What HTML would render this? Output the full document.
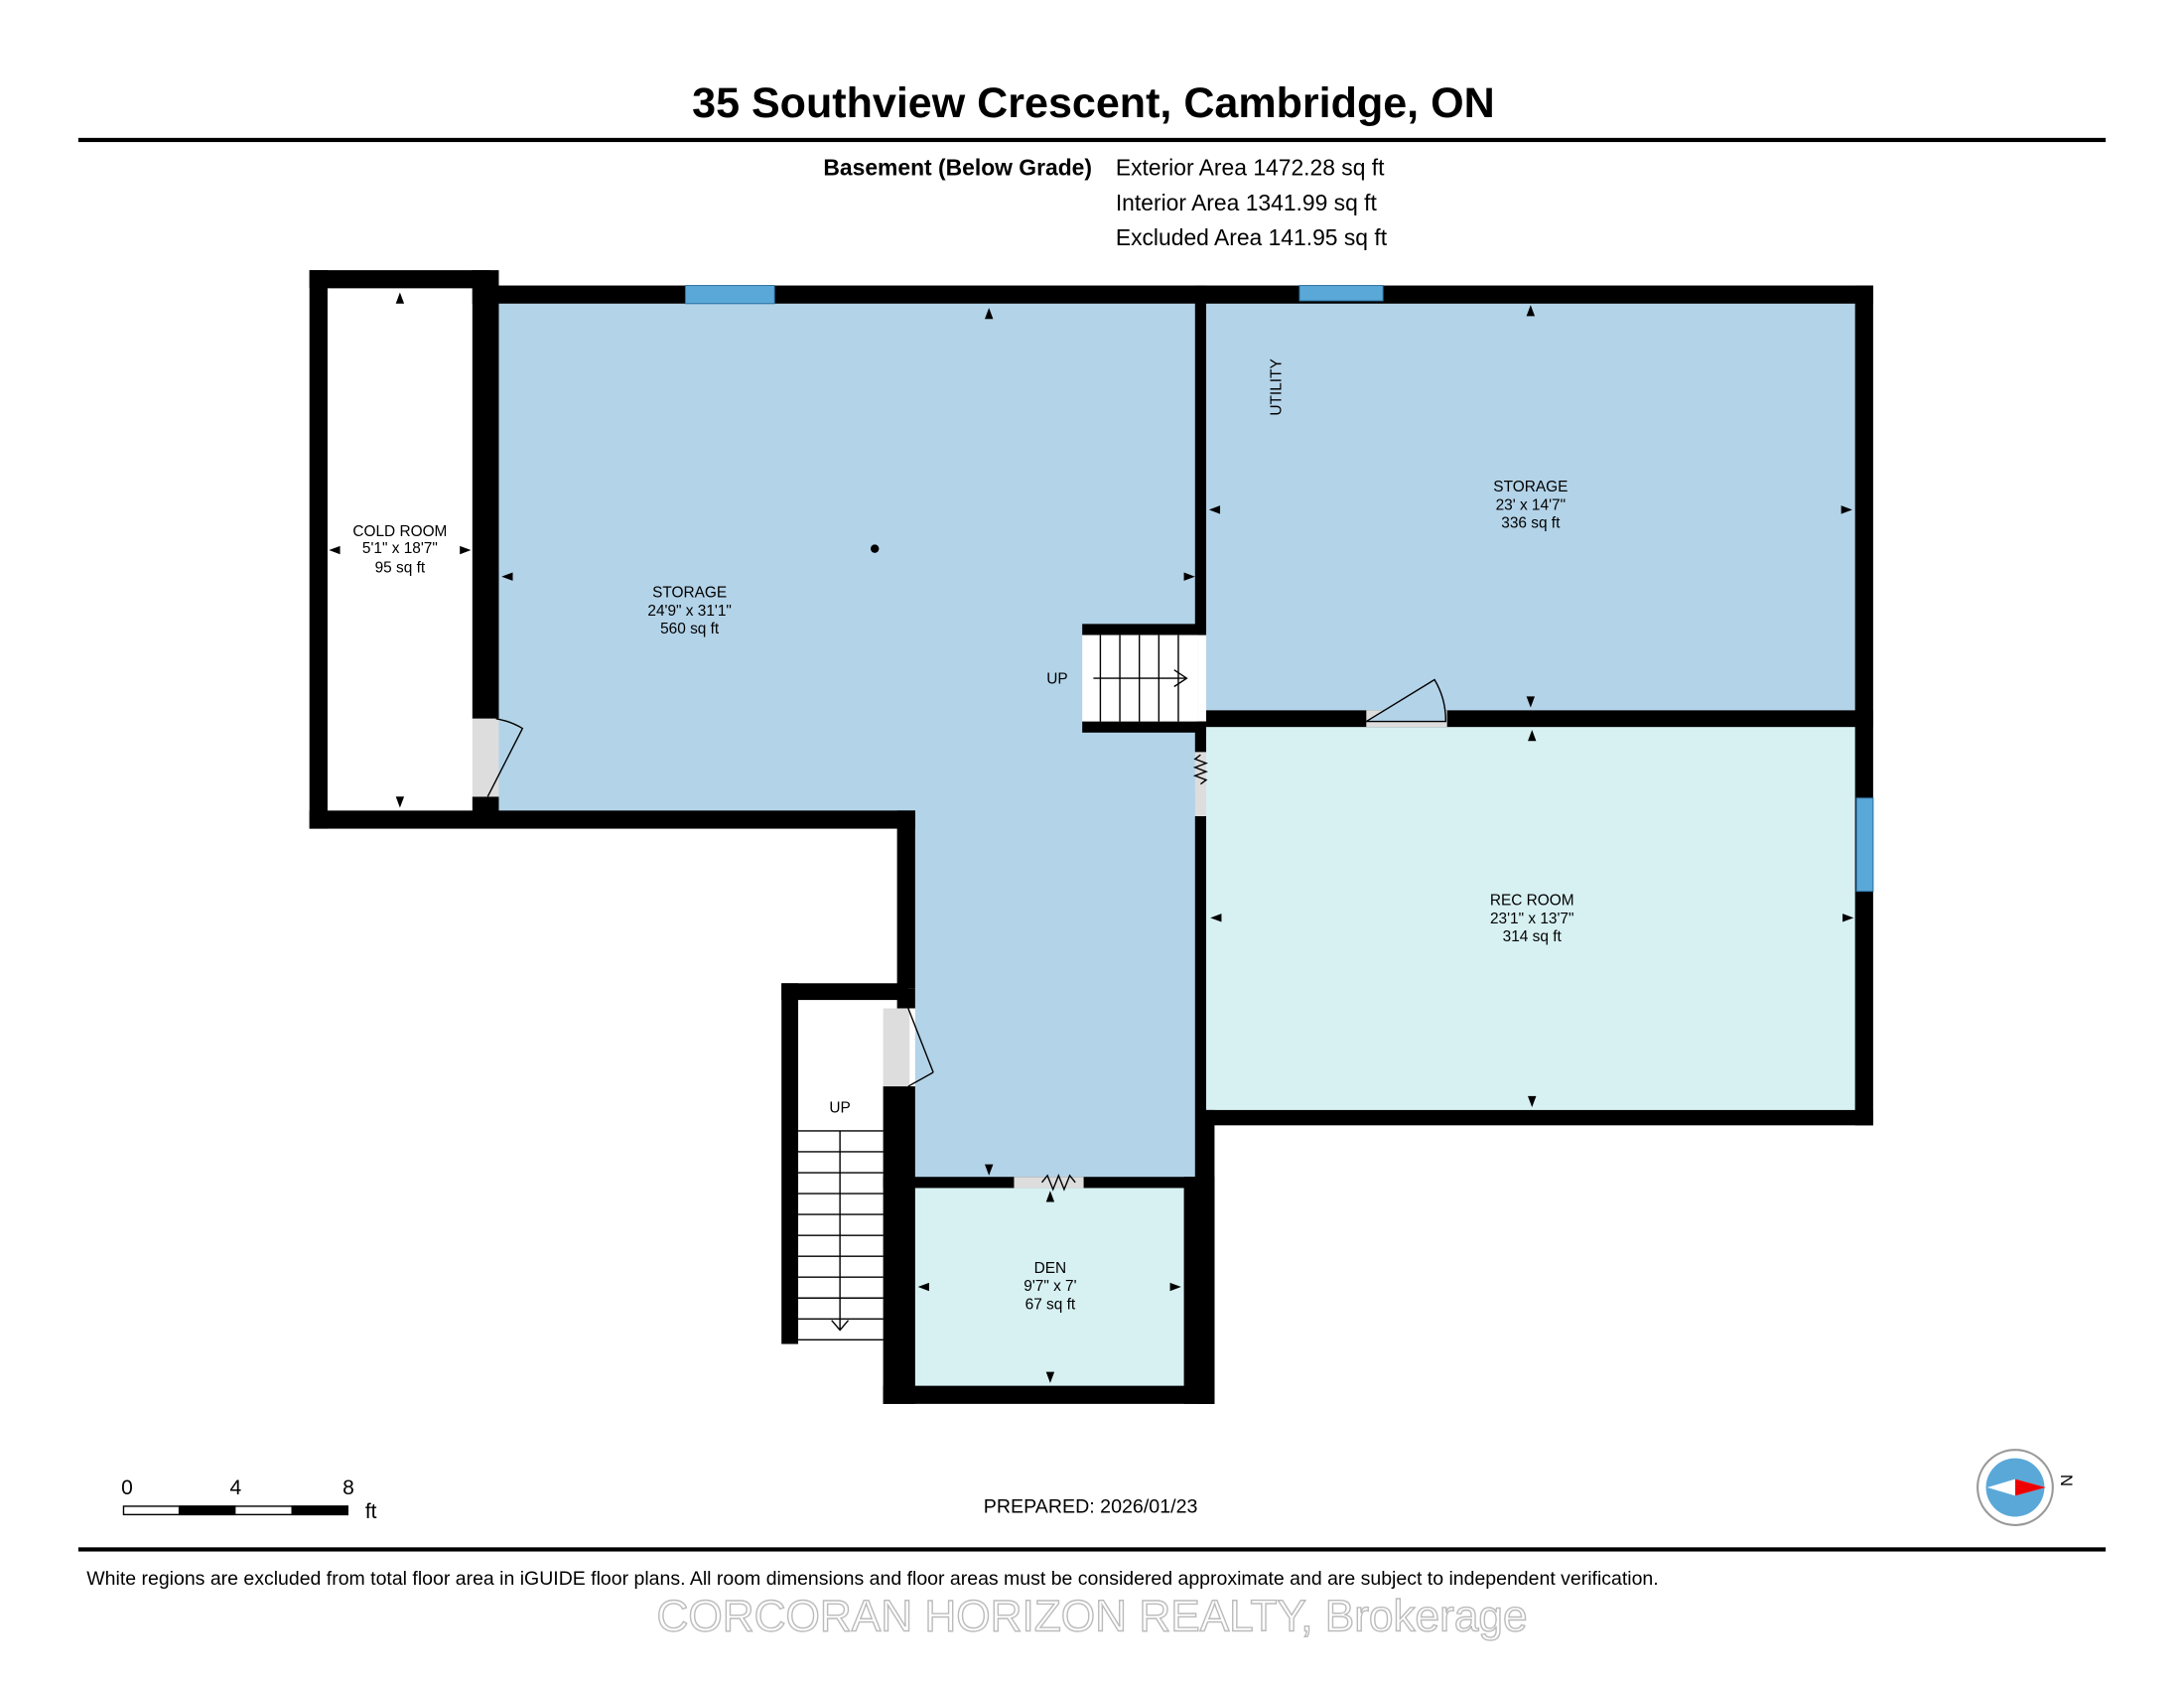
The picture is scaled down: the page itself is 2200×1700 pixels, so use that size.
<!DOCTYPE html>
<html><head><meta charset="utf-8"><style>
html,body{margin:0;padding:0;background:#fff;}
svg{display:block;}
text{font-family:"Liberation Sans",Arial,sans-serif;}
</style></head><body>
<svg width="2200" height="1700" viewBox="0 0 1568 1212" xmlns="http://www.w3.org/2000/svg">
<rect width="1568" height="1212" fill="#fff"/>
<text x="785" y="84" font-size="30.7" font-weight="bold" text-anchor="middle">35 Southview Crescent, Cambridge, ON</text>
<rect x="56" y="99" width="1456" height="3" fill="#000"/>
<text x="784" y="126" font-size="16.3" font-weight="bold" text-anchor="end">Basement (Below Grade)</text>
<text x="801" y="126" font-size="16.3">Exterior Area 1472.28 sq ft</text>
<text x="801" y="151" font-size="16.3">Interior Area 1341.99 sq ft</text>
<text x="801" y="176" font-size="16.3">Excluded Area 141.95 sq ft</text>

<path d="M352 218 H860 V847 H657 V588 H352 Z" fill="#b3d3e8"/>
<rect x="235" y="207" width="104" height="375" fill="#fff"/>
<rect x="866" y="216" width="466" height="294" fill="#b3d3e8"/>
<rect x="866" y="522" width="467" height="275" fill="#d7f1f3"/>
<rect x="657" y="853" width="193" height="142" fill="#d7f1f3"/>

<g fill="#000">
<rect x="222" y="194" width="130" height="13"/>
<rect x="222" y="194" width="13" height="401"/>
<rect x="222" y="582" width="435" height="13"/>
<rect x="339" y="194" width="19" height="322"/>
<rect x="339" y="572" width="19" height="12"/>
<rect x="339" y="205" width="1006" height="13"/>
<rect x="644" y="582" width="13" height="128"/>
<rect x="858" y="205" width="8" height="245"/>
<rect x="777" y="448" width="89" height="8"/>
<rect x="777" y="518" width="89" height="8"/>
<rect x="858" y="518" width="8" height="22"/>
<rect x="858" y="586" width="8" height="265"/>
<rect x="1332" y="205" width="13" height="603"/>
<rect x="866" y="510" width="479" height="12"/>
<rect x="860" y="797" width="485" height="11"/>
<rect x="860" y="797" width="12" height="211"/>
<rect x="634" y="845" width="238" height="8"/>
<rect x="850" y="845" width="22" height="163"/>
<rect x="634" y="995" width="238" height="13"/>
<rect x="634" y="780" width="23" height="228"/>
<rect x="644" y="710" width="13" height="14"/>
<rect x="561" y="706" width="91" height="12"/>
<rect x="561" y="706" width="12" height="259"/>
</g>
<g fill="#5aa8d8" stroke="#2b6f9e" stroke-width="0.7">
<rect x="492" y="205" width="64" height="13"/>
<rect x="933" y="205" width="60" height="11"/>
<rect x="1333" y="573" width="12" height="67"/>
</g>
<rect x="981" y="510" width="58" height="12" fill="#ddd"/>
<path d="M981 518 L1030 488 A57 57 0 0 1 1038 518 Z" fill="#b3d3e8" stroke="#000" stroke-width="1"/>
<rect x="339" y="516" width="19" height="56" fill="#ddd"/>
<path d="M356 516 A56 56 0 0 1 375 523 L350 572" fill="none" stroke="#000" stroke-width="1"/>
<rect x="634" y="724" width="19" height="56" fill="#ddd"/>
<path d="M652 724 L670 770 M652 780 L670 770" fill="none" stroke="#000" stroke-width="1"/>
<rect x="728" y="845" width="50" height="8" fill="#ddd"/>
<path d="M748 849 l4 -5 l4 10 l4 -10 l4 10 l4 -10 l4 5" fill="none" stroke="#000" stroke-width="1"/>
<rect x="858" y="540" width="8" height="46" fill="#ddd"/>
<path d="M862 542 l-4 3 l8 3 l-8 3 l8 3 l-8 3 l8 3 l-4 3" fill="none" stroke="#000" stroke-width="1"/>

<rect x="777" y="456" width="83" height="62" fill="#fff"/>
<g stroke="#000" stroke-width="1">
<line x1="790" y1="456" x2="790" y2="518"/><line x1="804" y1="456" x2="804" y2="518"/>
<line x1="818" y1="456" x2="818" y2="518"/><line x1="832" y1="456" x2="832" y2="518"/>
<line x1="846" y1="456" x2="846" y2="518"/>
<line x1="785" y1="487" x2="852" y2="487"/>
<polyline points="843,481 852,487 843,493" fill="none"/>
</g>
<text x="759" y="491" font-size="11" text-anchor="middle">UP</text>
<g stroke="#000" stroke-width="1">
<line x1="573" y1="812" x2="634" y2="812"/><line x1="573" y1="827" x2="634" y2="827"/>
<line x1="573" y1="842" x2="634" y2="842"/><line x1="573" y1="857" x2="634" y2="857"/>
<line x1="573" y1="872" x2="634" y2="872"/><line x1="573" y1="887" x2="634" y2="887"/>
<line x1="573" y1="902" x2="634" y2="902"/><line x1="573" y1="917" x2="634" y2="917"/>
<line x1="573" y1="932" x2="634" y2="932"/><line x1="573" y1="947" x2="634" y2="947"/>
<line x1="573" y1="962" x2="634" y2="962"/>
<line x1="603" y1="812" x2="603" y2="955"/>
<polyline points="597,948 603,955 609,948" fill="none"/>
</g>
<text x="603" y="799" font-size="11" text-anchor="middle">UP</text>

<g font-size="11" text-anchor="middle">
<text x="287" y="385">COLD ROOM</text><text x="287" y="397">5'1" x 18'7"</text><text x="287" y="411">95 sq ft</text>
<text x="495" y="429">STORAGE</text><text x="495" y="442">24'9" x 31'1"</text><text x="495" y="455">560 sq ft</text>
<text x="1099" y="353">STORAGE</text><text x="1099" y="366">23' x 14'7"</text><text x="1099" y="379">336 sq ft</text>
<text x="1100" y="650">REC ROOM</text><text x="1100" y="663">23'1" x 13'7"</text><text x="1100" y="676">314 sq ft</text>
<text x="754" y="914">DEN</text><text x="754" y="927">9'7" x 7'</text><text x="754" y="940">67 sq ft</text>
<text x="920" y="278" transform="rotate(-90 920 278)">UTILITY</text>
</g>
<circle cx="628" cy="394" r="3" fill="#000"/>
<g fill="#000">
<path d="M287 210 l-3 8 h6z"/><path d="M287 580 l-3 -8 h6z"/>
<path d="M236 395 l8 -3 v6z"/><path d="M338 395 l-8 -3 v6z"/>
<path d="M710 221 l-3 8 h6z"/><path d="M360 414 l8 -3 v6z"/><path d="M858 414 l-8 -3 v6z"/>
<path d="M710 844 l-3 -8 h6z"/>
<path d="M1099 219 l-3 8 h6z"/><path d="M1099 508 l-3 -8 h6z"/>
<path d="M868 366 l8 -3 v6z"/><path d="M1330 366 l-8 -3 v6z"/>
<path d="M1100 524 l-3 8 h6z"/><path d="M1100 795 l-3 -8 h6z"/>
<path d="M869 659 l8 -3 v6z"/><path d="M1331 659 l-8 -3 v6z"/>
<path d="M754 855 l-3 8 h6z"/><path d="M754 993 l-3 -8 h6z"/>
<path d="M659 924 l8 -3 v6z"/><path d="M848 924 l-8 -3 v6z"/>
</g>

<text x="91" y="1073" font-size="15" text-anchor="middle">0</text>
<text x="169" y="1073" font-size="15" text-anchor="middle">4</text>
<text x="250" y="1073" font-size="15" text-anchor="middle">8</text>
<text x="262" y="1090" font-size="15">ft</text>
<rect x="88.5" y="1081.5" width="161" height="6" fill="#fff" stroke="#000"/>
<rect x="128" y="1081" width="41" height="7" fill="#000"/>
<rect x="209" y="1081" width="41" height="7" fill="#000"/>
<text x="783" y="1086" font-size="14" text-anchor="middle">PREPARED: 2026/01/23</text>
<circle cx="1447" cy="1068" r="27" fill="#fff" stroke="#999" stroke-width="1.5"/>
<circle cx="1447" cy="1068" r="21" fill="#5aa8d8"/>
<path d="M1427 1068 L1447 1062 L1469 1068 L1447 1074 Z" fill="#fff"/>
<path d="M1447 1062 L1469 1068 L1447 1074 Z" fill="#e00"/>
<text x="1484" y="1067" font-size="12" text-anchor="middle" transform="rotate(90 1484 1063)">N</text>

<rect x="56" y="1111" width="1456" height="3" fill="#000"/>
<text x="62" y="1138" font-size="13.9">White regions are excluded from total floor area in iGUIDE floor plans. All room dimensions and floor areas must be considered approximate and are subject to independent verification.</text>
<text x="784" y="1171" font-size="31.5" text-anchor="middle" fill="#fff" stroke="#bbb" stroke-width="1">CORCORAN HORIZON REALTY, Brokerage</text>
</svg>
</body></html>
